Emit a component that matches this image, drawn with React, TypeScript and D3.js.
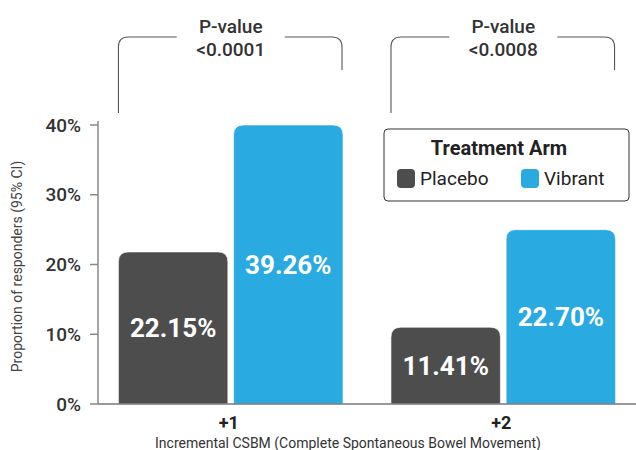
import { useEffect, useRef } from 'react'
import * as d3 from 'd3'

const groups = ['+1', '+2']
const arms = ['Placebo', 'Vibrant']
// bar heights as drawn (proportion, %)
const placeboValues = [21.8, 11.0]
const vibrantValues = [40.0, 25.0]
// labels printed on bars
const placeboLabels = ['22.15%', '11.41%']
const vibrantLabels = ['39.26%', '22.70%']
const pValues = ['<0.0001', '<0.0008']
const yTicks = [0, 10, 20, 30, 40]

const colors: Record<string, string> = { Placebo: '#4d4d4d', Vibrant: '#29abe2' }

function topRoundedRect(x: number, y: number, w: number, h: number, r: number) {
  return `M${x},${y + h}V${y + r}Q${x},${y} ${x + r},${y}H${x + w - r}Q${x + w},${y} ${x + w},${y + r}V${y + h}Z`
}

export default function App() {
  const svgRef = useRef<SVGSVGElement>(null)

  useEffect(() => {
    if (!svgRef.current) return
    const width = 636
    const height = 450
    const left = 98
    const bottom = 404

    d3.select(svgRef.current).selectAll('*').remove()
    const svg = d3.select(svgRef.current)
      .attr('width', width)
      .attr('height', height)
      .style('font-family', 'Roboto, sans-serif')

    const y = d3.scaleLinear().domain([0, 40]).range([bottom, 125])

    const x0 = d3.scaleBand()
      .domain(groups)
      .range([left, width])
      .paddingInner(0.176)
      .paddingOuter(0.075)

    const x1 = d3.scaleBand()
      .domain(arms)
      .range([0, x0.bandwidth()])
      .paddingInner(0.05)

    const data = groups.flatMap((g, i) => [
      { group: g, arm: 'Placebo', value: placeboValues[i], label: placeboLabels[i] },
      { group: g, arm: 'Vibrant', value: vibrantValues[i], label: vibrantLabels[i] },
    ])

    // bars
    svg.append('g')
      .selectAll('path')
      .data(data)
      .join('path')
      .attr('d', d => topRoundedRect(
        (x0(d.group) || 0) + (x1(d.arm) || 0),
        y(d.value),
        x1.bandwidth(),
        bottom - y(d.value),
        10,
      ))
      .attr('fill', d => colors[d.arm])
      .attr('stroke', '#fff')
      .attr('stroke-width', 0.6)

    // bar labels
    svg.append('g')
      .selectAll('text')
      .data(data)
      .join('text')
      .attr('x', d => (x0(d.group) || 0) + (x1(d.arm) || 0) + x1.bandwidth() / 2)
      .attr('y', d => (y(d.value) + bottom) / 2)
      .attr('text-anchor', 'middle')
      .attr('dominant-baseline', 'central')
      .attr('fill', '#fff')
      .attr('font-size', '26px')
      .attr('font-weight', 700)
      .text(d => d.label)

    // y axis
    const yAxis = svg.append('g')
    yAxis.append('line')
      .attr('x1', left).attr('x2', left)
      .attr('y1', bottom).attr('y2', 121)
      .attr('stroke', '#888').attr('stroke-width', 1.5)
    yAxis.selectAll('.tick')
      .data(yTicks)
      .join('line')
      .attr('x1', left - 8).attr('x2', left)
      .attr('y1', d => y(d)).attr('y2', d => y(d))
      .attr('stroke', '#888').attr('stroke-width', 1.5)
    yAxis.selectAll('text')
      .data(yTicks)
      .join('text')
      .attr('x', 81)
      .attr('y', d => y(d))
      .attr('text-anchor', 'end')
      .attr('dominant-baseline', 'central')
      .attr('fill', '#333')
      .attr('font-size', '19px')
      .attr('font-weight', 500)
      .text(d => `${d}%`)

    svg.append('text')
      .attr('transform', `translate(22,${(bottom + 125) / 2 + 2}) rotate(-90)`)
      .attr('text-anchor', 'middle')
      .attr('fill', '#444')
      .attr('font-size', '14px')
      .text('Proportion of responders (95% CI)')

    // x axis
    svg.append('line')
      .attr('x1', left).attr('x2', width)
      .attr('y1', bottom).attr('y2', bottom)
      .attr('stroke', '#777').attr('stroke-width', 1.5)

    svg.append('g')
      .selectAll('text')
      .data(groups)
      .join('text')
      .attr('x', d => (x0(d) || 0) + x0.bandwidth() / 2 - 2)
      .attr('y', 429)
      .attr('text-anchor', 'middle')
      .attr('fill', '#222')
      .attr('font-size', '18px')
      .attr('font-weight', 700)
      .text(d => d)

    svg.append('text')
      .attr('x', 348)
      .attr('y', 448)
      .attr('text-anchor', 'middle')
      .attr('fill', '#333')
      .attr('font-size', '14px')
      .text('Incremental CSBM (Complete Spontaneous Bowel Movement)')

    // p-value brackets
    groups.forEach((g, i) => {
      const x = x0(g) || 0
      const xr = x + x0.bandwidth() - 1
      const cx = x + x0.bandwidth() / 2
      const top = 37
      const r = 10
      const gap = 54
      const b = svg.append('g').attr('fill', 'none').attr('stroke', '#555').attr('stroke-width', 1.1)
      b.append('path')
        .attr('d', `M${x},113V${top + r}Q${x},${top} ${x + r},${top}H${cx - gap}`)
      b.append('path')
        .attr('d', `M${cx + gap},${top}H${xr - r}Q${xr},${top} ${xr},${top + r}V70`)
      svg.append('text')
        .attr('x', cx)
        .attr('y', 33)
        .attr('text-anchor', 'middle')
        .attr('fill', '#333')
        .attr('font-size', '19px')
        .attr('font-weight', 500)
        .text('P-value')
      svg.append('text')
        .attr('x', cx)
        .attr('y', 56)
        .attr('text-anchor', 'middle')
        .attr('fill', '#333')
        .attr('font-size', '19px')
        .attr('font-weight', 500)
        .text(pValues[i])
    })

    // legend
    const legend = svg.append('g').attr('transform', 'translate(384,129)')
    legend.append('rect')
      .attr('width', 245).attr('height', 72).attr('rx', 4)
      .attr('fill', '#fff').attr('stroke', '#333').attr('stroke-width', 1)
    legend.append('text')
      .attr('x', 115).attr('y', 26)
      .attr('text-anchor', 'middle')
      .attr('fill', '#222')
      .attr('font-size', '20px')
      .attr('font-weight', 700)
      .text('Treatment Arm')
    const items = legend.selectAll('.item')
      .data(arms)
      .join('g')
      .attr('transform', (_, i) => `translate(${i === 0 ? 13 : 137},40)`)
    items.append('rect')
      .attr('width', 18).attr('height', 19).attr('rx', 4)
      .attr('fill', d => colors[d])
    items.append('text')
      .attr('x', 23).attr('y', 16)
      .attr('fill', '#222')
      .attr('font-size', '19px')
      .text(d => d)
  }, [])

  return (
    <div style={{ position: 'absolute', left: 0, top: 0 }}>
      <svg ref={svgRef} style={{ display: 'block' }}></svg>
    </div>
  )
}
